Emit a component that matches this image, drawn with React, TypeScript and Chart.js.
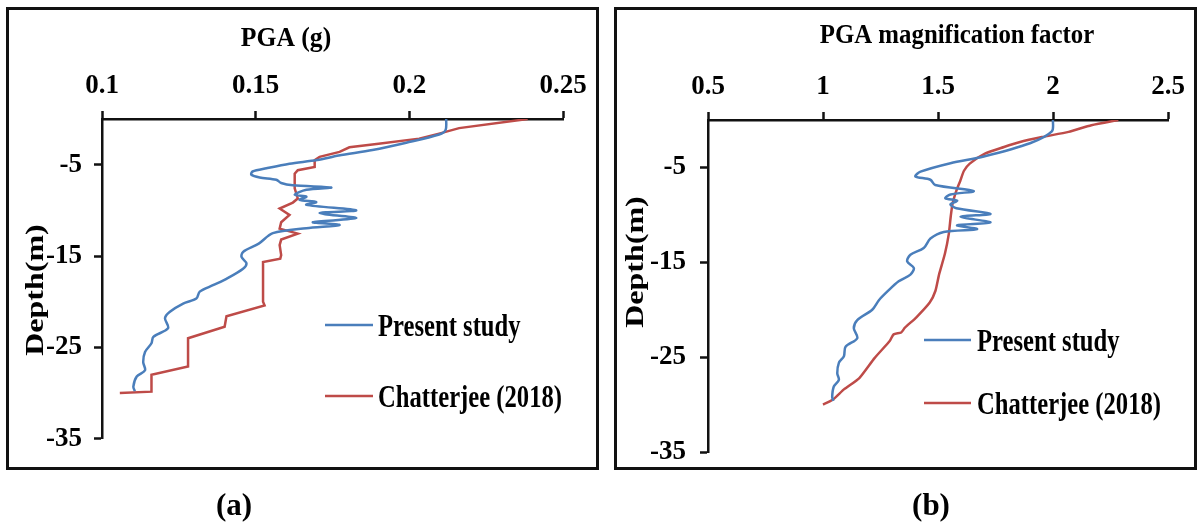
import React, { useEffect, useRef } from "react";
import { Chart, registerables } from "chart.js";

Chart.register(...registerables);

const FONT = "'Liberation Serif', 'Times New Roman', serif";

// ---- Panel (a): PGA with depth ----
const depthPresentA = [0, -1.2, -1.7, -2.6, -3.4, -4.0, -4.5, -4.9, -5.4, -5.75, -6.1, -6.4, -6.65, -7.0, -7.25, -7.5, -7.75, -8.3, -8.5, -8.85, -9.1, -9.4, -10.0, -10.3, -10.85, -11.3, -11.6, -11.95, -12.5, -13.65, -14.55, -15.1, -15.8, -16.4, -17.5, -18.2, -18.9, -19.65, -20.2, -21.1, -21.8, -22.9, -23.85, -24.55, -25.5, -26.6, -27.5, -28.2, -29.3, -29.8];
const pgaPresent = [0.212, 0.2118, 0.2097, 0.199, 0.188, 0.177, 0.17, 0.161, 0.1535, 0.149, 0.1486, 0.1513, 0.1567, 0.1583, 0.1621, 0.1746, 0.1665, 0.1627, 0.1665, 0.1643, 0.1697, 0.1665, 0.1827, 0.1708, 0.1827, 0.1686, 0.1773, 0.1665, 0.1556, 0.151, 0.1459, 0.1454, 0.147, 0.1459, 0.1405, 0.1361, 0.1318, 0.1307, 0.1264, 0.1221, 0.1205, 0.1215, 0.1167, 0.1161, 0.114, 0.1134, 0.114, 0.1113, 0.1102, 0.1107];

const depthChatterjeeA = [0, -1.0, -1.6, -2.15, -2.7, -3.1, -3.6, -4.15, -4.5, -5.25, -5.6, -6.0, -7.6, -8.7, -9.15, -9.8, -10.5, -11.3, -12.0, -12.55, -13.2, -13.8, -14.9, -15.3, -15.65, -20.0, -20.4, -21.6, -22.75, -24.0, -27.1, -28.0, -29.85, -30];
const pgaChatterjee = [0.2385, 0.2162, 0.2097, 0.2032, 0.19, 0.1805, 0.1773, 0.1708, 0.1692, 0.1692, 0.1637, 0.1627, 0.1627, 0.1637, 0.1621, 0.1578, 0.161, 0.1583, 0.1578, 0.1637, 0.1583, 0.1578, 0.1583, 0.158, 0.1524, 0.1524, 0.1529, 0.1405, 0.1399, 0.128, 0.128, 0.1161, 0.1161, 0.1058];

// ---- Panel (b): PGA magnification factor with depth ----
const depthPresentB = [0, -1.2, -2.45, -3.85, -4.55, -5.45, -5.95, -6.3, -6.85, -7.5, -7.85, -8.25, -8.5, -8.9, -9.3, -9.9, -10.2, -10.8, -11.1, -11.5, -11.8, -12.5, -13.5, -14.2, -14.9, -15.6, -16.3, -17.0, -18.1, -19.0, -20.0, -21.1, -21.95, -23.0, -23.9, -24.9, -25.6, -26.7, -27.4, -28.1, -29.2, -29.6];
const mfPresent = [2.0, 1.995, 1.9, 1.699, 1.554, 1.424, 1.402, 1.467, 1.488, 1.655, 1.554, 1.532, 1.583, 1.554, 1.58, 1.728, 1.598, 1.728, 1.583, 1.67, 1.525, 1.467, 1.438, 1.38, 1.366, 1.395, 1.38, 1.329, 1.279, 1.243, 1.214, 1.149, 1.134, 1.149, 1.098, 1.091, 1.069, 1.062, 1.069, 1.047, 1.04, 1.045];

const depthChatterjeeB = [0, -0.55, -1.25, -1.8, -2.35, -2.85, -3.55, -4.6, -5.35, -6.4, -7.45, -8.85, -10.25, -12.0, -14.1, -16.25, -18.0, -19.25, -20.8, -21.9, -22.4, -22.6, -23.3, -25.1, -27.2, -28.4, -29.5, -30];
const mfChatterjee = [2.284, 2.167, 2.068, 1.952, 1.853, 1.787, 1.704, 1.638, 1.613, 1.597, 1.58, 1.563, 1.555, 1.547, 1.53, 1.505, 1.489, 1.464, 1.406, 1.356, 1.34, 1.307, 1.29, 1.224, 1.158, 1.091, 1.042, 1.0];

// ---- Series names, colours and axis ticks ----
const seriesNames = ["Present study", "Chatterjee (2018)"];
const seriesColors = ["#4A7EBB", "#BE4B48"];

const pgaTicks = [0.1, 0.15, 0.2, 0.25];
const pgaTickLabels = ["0.1", "0.15", "0.2", "0.25"];
const mfTicks = [0.5, 1, 1.5, 2, 2.5];
const mfTickLabels = ["0.5", "1", "1.5", "2", "2.5"];
const depthTicks = [-35, -25, -15, -5];
const depthTickLabels = ["-35", "-25", "-15", "-5"];

const toPoints = (depths: number[], values: number[]) =>
  depths.map((d, i) => ({ x: values[i], y: d }));

// Draws axis titles, panel captions and an in-plot legend.
const panelTextPlugin = {
  id: "panelText",
  afterDraw(chart: any, _args: any, opts: any) {
    const ctx = chart.ctx as CanvasRenderingContext2D;
    const items = opts.items || [];
    for (const t of items) {
      ctx.save();
      ctx.translate(t.x, t.y);
      ctx.scale(t.sx ?? 1, 1);
      if (t.rotate) ctx.rotate(t.rotate);
      ctx.font = `bold ${t.size}px ${FONT}`;
      ctx.fillStyle = "#000";
      ctx.textAlign = t.align || "center";
      ctx.textBaseline = t.baseline || "alphabetic";
      ctx.fillText(t.text, 0, 0);
      ctx.restore();
    }
    const lg = opts.legend;
    if (lg) {
      chart.data.datasets.forEach((ds: any, i: number) => {
        const y = lg.ys[i];
        ctx.save();
        ctx.strokeStyle = ds.borderColor;
        ctx.lineWidth = ds.borderWidth;
        ctx.beginPath();
        ctx.moveTo(lg.x0, y);
        ctx.lineTo(lg.x1, y);
        ctx.stroke();
        ctx.translate(lg.textX, y + lg.baselineOffset);
        ctx.scale(lg.sx, 1);
        ctx.font = `bold ${lg.size}px ${FONT}`;
        ctx.fillStyle = "#000";
        ctx.textAlign = "left";
        ctx.textBaseline = "alphabetic";
        ctx.fillText(ds.label, 0, 0);
        ctx.restore();
      });
    }
  },
};

type PanelSpec = {
  width: number;
  height: number;
  xMin: number;
  xMax: number;
  xTicks: number[];
  xLabels: string[];
  yPad: number;
  area: { left: number; top: number; right: number; bottom: number };
  series: { x: number; y: number }[][];
  tensions: number[];
  text: any[];
  legend: any;
};

function axisFont() {
  return { family: FONT, size: 27, weight: "bold" as const };
}

const tickGrid = {
  drawOnChartArea: false,
  drawTicks: true,
  tickLength: 8,
  tickWidth: 2.5,
  tickColor: "#111",
  color: "#111",
};

function makeConfig(p: PanelSpec): any {
  return {
    type: "scatter",
    data: {
      datasets: p.series.map((pts, i) => ({
        label: seriesNames[i],
        data: pts,
        showLine: true,
        borderColor: seriesColors[i],
        backgroundColor: seriesColors[i],
        borderWidth: 2.5,
        pointRadius: 0,
        tension: p.tensions[i],
        fill: false,
      })),
    },
    options: {
      responsive: false,
      animation: false,
      devicePixelRatio: 1,
      layout: {
        padding: {
          left: 0,
          top: 0,
          right: p.width - p.area.right,
          bottom: p.height - p.area.bottom,
        },
      },
      plugins: {
        legend: { display: false },
        tooltip: { enabled: false },
        panelText: { items: p.text, legend: p.legend },
      },
      scales: {
        x: {
          type: "linear",
          position: "top",
          min: p.xMin,
          max: p.xMax,
          afterBuildTicks: (axis: any) => {
            axis.ticks = p.xTicks.map((v) => ({ value: v }));
          },
          afterFit: (axis: any) => {
            axis.height = p.area.top;
          },
          ticks: {
            callback: (_v: any, i: number) => p.xLabels[i] ?? "",
            font: axisFont(),
            color: "#000",
            padding: 9,
            maxRotation: 0,
            autoSkip: false,
          },
          grid: tickGrid,
          border: { display: true, color: "#111", width: 2.5 },
        },
        y: {
          type: "linear",
          position: "left",
          min: -35,
          max: 0,
          afterBuildTicks: (axis: any) => {
            axis.ticks = depthTicks.map((v) => ({ value: v }));
          },
          afterFit: (axis: any) => {
            axis.width = p.area.left;
          },
          ticks: {
            callback: (_v: any, i: number) => depthTickLabels[i] ?? "",
            font: axisFont(),
            color: "#000",
            padding: p.yPad,
            autoSkip: false,
          },
          grid: tickGrid,
          border: { display: true, color: "#111", width: 2.5 },
        },
      },
    },
    plugins: [panelTextPlugin],
  };
}

function Panel({ spec, left }: { spec: PanelSpec; left: number }) {
  const ref = useRef<HTMLCanvasElement | null>(null);
  useEffect(() => {
    if (!ref.current) return;
    const chart = new Chart(ref.current, makeConfig(spec));
    return () => chart.destroy();
  }, [spec]);
  return (
    <canvas
      ref={ref}
      width={spec.width}
      height={spec.height}
      style={{ position: "absolute", left, top: 0, width: spec.width, height: spec.height }}
    />
  );
}

const panelA: PanelSpec = {
  width: 607,
  height: 526,
  xMin: 0.1,
  xMax: 0.25,
  xTicks: pgaTicks,
  xLabels: pgaTickLabels,
  yPad: 12,
  area: { left: 102, top: 119, right: 563, bottom: 438.7 },
  series: [toPoints(depthPresentA, pgaPresent), toPoints(depthChatterjeeA, pgaChatterjee)],
  tensions: [0.3, 0],
  text: [
    { text: "PGA (g)", x: 286, y: 46, size: 27, sx: 0.95 },
    { text: "Depth(m)", x: 37, y: 290, size: 32, sx: 0.78, rotate: -Math.PI / 2, baseline: "middle" },
    { text: "(a)", x: 234, y: 515, size: 31 },
  ],
  legend: { x0: 325, x1: 373, textX: 378, ys: [325, 396], baselineOffset: 11, size: 32, sx: 0.77 },
};

const panelB: PanelSpec = {
  width: 590,
  height: 526,
  xMin: 0.5,
  xMax: 2.5,
  xTicks: mfTicks,
  xLabels: mfTickLabels,
  yPad: 14,
  area: { left: 101, top: 120, right: 561, bottom: 452 },
  series: [toPoints(depthPresentB, mfPresent), toPoints(depthChatterjeeB, mfChatterjee)],
  tensions: [0.3, 0.2],
  text: [
    { text: "PGA magnification factor", x: 350, y: 43, size: 27, sx: 0.92 },
    { text: "Depth(m)", x: 30, y: 262, size: 32, sx: 0.78, rotate: -Math.PI / 2, baseline: "middle" },
    { text: "(b)", x: 324, y: 515, size: 31 },
  ],
  legend: { x0: 317, x1: 364, textX: 370, ys: [340, 403], baselineOffset: 11, size: 32, sx: 0.77 },
};

const boxStyle = (left: number, width: number): React.CSSProperties => ({
  position: "absolute",
  left,
  top: 7,
  width,
  height: 463,
  border: "3px solid #111",
  boxSizing: "border-box",
  pointerEvents: "none",
});

export default function App() {
  return (
    <div
      style={{
        position: "fixed",
        left: 0,
        top: 0,
        width: 1197,
        height: 526,
        background: "#fff",
        overflow: "hidden",
      }}
    >
      <Panel spec={panelA} left={0} />
      <Panel spec={panelB} left={607} />
      <div style={boxStyle(6, 593)} />
      <div style={boxStyle(614, 583)} />
    </div>
  );
}
